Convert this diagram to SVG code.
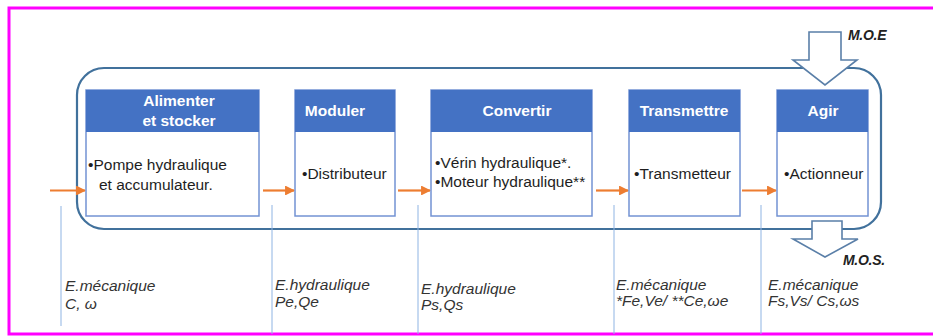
<svg xmlns="http://www.w3.org/2000/svg" width="933" height="336" viewBox="0 0 933 336">
<style>
.hdr{fill:#4472c4}
.body{fill:#fff;stroke:#7393d3;stroke-width:1.5}
.ht{font-family:"Liberation Sans",Arial,sans-serif;font-weight:bold;font-size:15.5px;fill:#fff;text-anchor:middle}
.bt{font-family:"Liberation Sans",Arial,sans-serif;font-size:15.5px;fill:#1e1e1e}
.lb{font-family:"Liberation Sans",Arial,sans-serif;font-style:italic;font-size:15.5px;fill:#333}
.mo{font-family:"Liberation Sans",Arial,sans-serif;font-style:italic;font-weight:bold;font-size:14px;fill:#222;letter-spacing:-0.3px}
.vl{stroke:#8fb4e3;stroke-width:1}
.oa{stroke:#ed7d31;stroke-width:2.2;fill:none;marker-end:url(#ah)}
.big{fill:#fff;stroke:#5a7fa8;stroke-width:1.6}
</style>
<defs>
<marker id="ah" viewBox="0 0 10 10" refX="9" refY="5" markerWidth="4.5" markerHeight="4.5" orient="auto" markerUnits="strokeWidth">
<path d="M0,0 L10,5 L0,10 z" fill="#ed7d31"/>
</marker>
</defs>
<rect x="0" y="0" width="933" height="336" fill="#fff"/>
<rect id="frame" x="9" y="8" width="940" height="326" fill="none" stroke="#ff00ff" stroke-width="3"/>
<rect id="container" x="77" y="68" width="804" height="161" rx="27" ry="27" fill="none" stroke="#41719c" stroke-width="2.2"/>
<g id="connectors">
<path class="oa" d="M50,190.5 H85"/>
<path class="oa" d="M263,190.5 H294"/>
<path class="oa" d="M398,190.5 H430"/>
<path class="oa" d="M596,190.5 H628"/>
<path class="oa" d="M742,190.5 H776"/>
<line class="vl" x1="61" y1="206" x2="61" y2="326"/>
<line class="vl" x1="272" y1="205" x2="272" y2="334"/>
<line class="vl" x1="418" y1="205" x2="418" y2="334"/>
<line class="vl" x1="614" y1="205" x2="614" y2="334"/>
<line class="vl" x1="761" y1="205" x2="761" y2="334"/>
</g>
<g id="moe">
<polygon class="big" points="809,32 841,32 841,60 857,60 825,85 793,60 809,60"/>
<text class="mo" x="848" y="40">M.O.E</text>
</g>
<g id="mos">
<polygon class="big" points="812,221 842,221 842,239 858,239 825,257 793,239 812,239"/>
<text class="mo" x="843" y="265">M.O.S.</text>
</g>
<g id="alimenter">
<rect class="body" x="86" y="90" width="173" height="126"/>
<rect class="hdr" x="86" y="90" width="173" height="42"/>
<text class="ht" x="179" y="106">Alimenter</text>
<text class="ht" x="179" y="126">et stocker</text>
<text class="bt" x="88" y="170">•Pompe hydraulique</text>
<text class="bt" x="99" y="190">et accumulateur.</text>
</g>
<g id="moduler">
<rect class="body" x="295" y="90" width="100" height="126"/>
<rect class="hdr" x="295" y="90" width="100" height="42"/>
<text class="ht" x="335" y="116">Moduler</text>
<text class="bt" x="302" y="179">•Distributeur</text>
</g>
<g id="convertir">
<rect class="body" x="431" y="90" width="161" height="126"/>
<rect class="hdr" x="431" y="90" width="161" height="42"/>
<text class="ht" x="517" y="116">Convertir</text>
<text class="bt" x="435" y="168">•Vérin hydraulique*.</text>
<text class="bt" x="435" y="187">•Moteur hydraulique**</text>
</g>
<g id="transmettre">
<rect class="body" x="629" y="90" width="111" height="126"/>
<rect class="hdr" x="629" y="90" width="111" height="42"/>
<text class="ht" x="684" y="116">Transmettre</text>
<text class="bt" x="634" y="179">•Transmetteur</text>
</g>
<g id="agir">
<rect class="body" x="777" y="90" width="91" height="126"/>
<rect class="hdr" x="777" y="90" width="91" height="42"/>
<text class="ht" x="823" y="116">Agir</text>
<text class="bt" x="784" y="179">•Actionneur</text>
</g>
<g id="labels">
<text class="lb" x="65" y="291">E.mécanique</text>
<text class="lb" x="65" y="309">C, ω</text>
<text class="lb" x="275" y="290">E.hydraulique</text>
<text class="lb" x="275" y="307">Pe,Qe</text>
<text class="lb" x="421" y="294">E.hydraulique</text>
<text class="lb" x="421" y="310">Ps,Qs</text>
<text class="lb" x="616" y="290">E.mécanique</text>
<text class="lb" x="616" y="306">*Fe,Ve/ **Ce,ωe</text>
<text class="lb" x="768" y="290">E.mécanique</text>
<text class="lb" x="768" y="306">Fs,Vs/ Cs,ωs</text>
</g>
</svg>
